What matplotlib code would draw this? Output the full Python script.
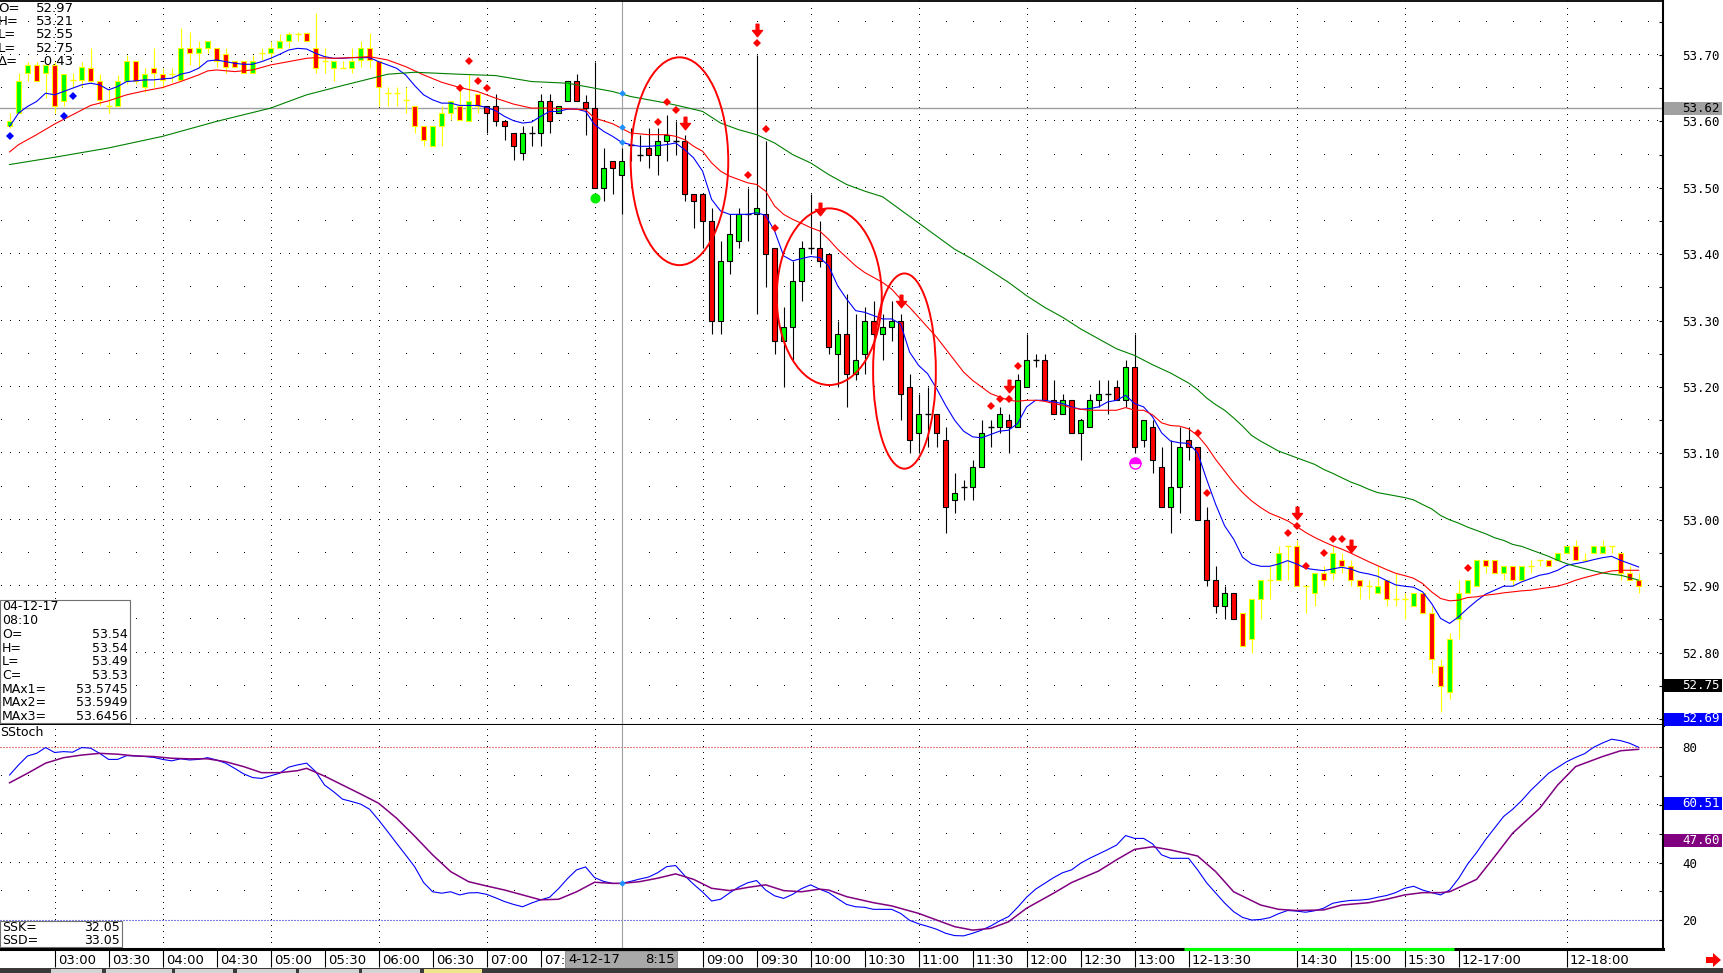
import numpy as np
import matplotlib
matplotlib.use("Agg")
import matplotlib.pyplot as plt
from matplotlib.patches import Rectangle, Ellipse, Polygon
from matplotlib.path import Path
from matplotlib.transforms import blended_transform_factory

plt.rcParams['font.family'] = ['DejaVu Sans']
plt.rcParams['lines.scale_dashes'] = False

# ── Data: 5-minute bars from 02:35, session break after 15:55 ─────────────────
opens = [
    53.5925, 53.6125, 53.6725, 53.685, 53.6725, 53.685, 53.631, 53.6625, 53.6625, 53.68,
    53.661, 53.6225, 53.6225, 53.6615, 53.691, 53.6525, 53.681, 53.671, 53.671, 53.6625,
    53.711, 53.7025, 53.711, 53.711, 53.701, 53.691, 53.691, 53.6725, 53.7025, 53.7025,
    53.711, 53.721, 53.731, 53.7325, 53.711, 53.691, 53.681, 53.681, 53.681, 53.6925,
    53.71, 53.691, 53.6425, 53.6425, 53.6325, 53.6225, 53.5925, 53.5625, 53.5925, 53.6125,
    53.6225, 53.601, 53.641, 53.6225, 53.6225, 53.601, 53.5825, 53.5525, 53.5825, 53.5825,
    53.631, 53.6125, 53.631, 53.661, 53.6285, 53.62, 53.50, 53.54, 53.52, 53.565,
    53.55, 53.56, 53.55, 53.57, 53.57, 53.57, 53.49, 53.49, 53.45, 53.30,
    53.39, 53.42, 53.46, 53.46, 53.46, 53.41, 53.27, 53.29, 53.36, 53.41,
    53.41, 53.40, 53.25, 53.28, 53.22, 53.25, 53.30, 53.28, 53.29, 53.30,
    53.20, 53.13, 53.16, 53.16, 53.12, 53.03, 53.05, 53.05, 53.08, 53.14,
    53.14, 53.15, 53.14, 53.20, 53.24, 53.24, 53.18, 53.16, 53.18, 53.13,
    53.14, 53.18, 53.19, 53.20, 53.18, 53.23, 53.12, 53.14, 53.08, 53.02,
    53.05, 53.12, 53.11, 53.00, 52.91, 52.87, 52.89, 52.86, 52.82, 52.88,
    52.91, 52.91, 52.96, 52.96, 52.90, 52.89, 52.92, 52.92, 52.94, 52.93,
    52.91, 52.90, 52.89, 52.91, 52.88, 52.88, 52.87, 52.89, 52.86, 52.78,
    52.74, 52.85, 52.89, 52.90, 52.94, 52.94, 52.92, 52.93, 52.91, 52.93,
    52.94, 52.94, 52.94, 52.95, 52.96, 52.94, 52.95, 52.95, 52.96, 52.95,
    52.92, 52.91]
highs = [
    53.6125, 53.6725, 53.69, 53.69, 53.685, 53.69, 53.671, 53.6725, 53.69, 53.711,
    53.671, 53.65, 53.67, 53.70, 53.691, 53.68, 53.711, 53.68, 53.68, 53.741,
    53.735, 53.721, 53.721, 53.711, 53.71, 53.691, 53.691, 53.70, 53.71, 53.721,
    53.731, 53.735, 53.735, 53.735, 53.7625, 53.711, 53.691, 53.691, 53.711, 53.721,
    53.7325, 53.691, 53.6525, 53.6525, 53.6525, 53.6225, 53.5925, 53.5925, 53.6225, 53.631,
    53.6525, 53.671, 53.641, 53.6225, 53.641, 53.601, 53.5825, 53.5925, 53.5925, 53.641,
    53.641, 53.6225, 53.661, 53.671, 53.64, 53.69, 53.56, 53.54, 53.56, 53.59,
    53.58, 53.59, 53.59, 53.61, 53.60, 53.58, 53.49, 53.49, 53.47, 53.42,
    53.46, 53.47, 53.50, 53.70, 53.57, 53.41, 53.32, 53.39, 53.42, 53.49,
    53.45, 53.40, 53.30, 53.34, 53.31, 53.32, 53.33, 53.31, 53.33, 53.31,
    53.22, 53.19, 53.20, 53.16, 53.14, 53.07, 53.06, 53.09, 53.15, 53.15,
    53.17, 53.16, 53.22, 53.28, 53.25, 53.25, 53.21, 53.19, 53.18, 53.15,
    53.19, 53.21, 53.21, 53.21, 53.24, 53.28, 53.15, 53.15, 53.11, 53.12,
    53.14, 53.14, 53.11, 53.02, 52.93, 52.90, 52.89, 52.86, 52.88, 52.91,
    52.93, 52.96, 52.96, 52.97, 52.90, 52.92, 52.93, 52.96, 52.95, 52.94,
    52.91, 52.91, 52.93, 52.91, 52.92, 52.89, 52.89, 52.89, 52.87, 52.79,
    52.83, 52.91, 52.91, 52.94, 52.94, 52.94, 52.93, 52.93, 52.93, 52.94,
    52.94, 52.94, 52.95, 52.96, 52.97, 52.95, 52.96, 52.97, 52.96, 52.95,
    52.93, 52.92]
lows = [
    53.59, 53.6125, 53.661, 53.6615, 53.635, 53.6125, 53.6225, 53.6525, 53.6525, 53.66,
    53.625, 53.6125, 53.6225, 53.656, 53.656, 53.645, 53.6525, 53.65, 53.66, 53.6625,
    53.685, 53.68, 53.7025, 53.6825, 53.6725, 53.6825, 53.6725, 53.6725, 53.6925, 53.6925,
    53.711, 53.711, 53.721, 53.721, 53.6725, 53.6725, 53.661, 53.681, 53.6725, 53.6825,
    53.681, 53.6225, 53.6225, 53.6225, 53.6125, 53.5825, 53.5625, 53.5625, 53.5625, 53.6025,
    53.6025, 53.601, 53.6125, 53.5825, 53.5925, 53.5725, 53.5425, 53.5425, 53.5625, 53.5625,
    53.5825, 53.6125, 53.631, 53.631, 53.58, 53.50, 53.48, 53.49, 53.46, 53.54,
    53.54, 53.53, 53.52, 53.54, 53.55, 53.48, 53.44, 53.41, 53.28, 53.28,
    53.37, 53.41, 53.42, 53.31, 53.35, 53.25, 53.20, 53.24, 53.33, 53.40,
    53.38, 53.25, 53.20, 53.17, 53.21, 53.22, 53.26, 53.24, 53.27, 53.15,
    53.10, 53.10, 53.11, 53.11, 52.98, 53.01, 53.03, 53.03, 53.08, 53.11,
    53.13, 53.10, 53.14, 53.20, 53.23, 53.18, 53.16, 53.16, 53.13, 53.09,
    53.14, 53.17, 53.16, 53.18, 53.17, 53.10, 53.11, 53.07, 53.02, 52.98,
    53.01, 53.09, 53.00, 52.90, 52.86, 52.85, 52.85, 52.81, 52.80, 52.85,
    52.88, 52.91, 52.91, 52.90, 52.86, 52.87, 52.90, 52.91, 52.92, 52.90,
    52.88, 52.88, 52.89, 52.87, 52.87, 52.85, 52.87, 52.86, 52.77, 52.71,
    52.73, 52.82, 52.89, 52.90, 52.92, 52.92, 52.91, 52.90, 52.91, 52.92,
    52.93, 52.93, 52.94, 52.95, 52.94, 52.94, 52.95, 52.95, 52.95, 52.91,
    52.91, 52.89]
closes = [
    53.601, 53.6615, 53.685, 53.6615, 53.685, 53.6225, 53.671, 53.6625, 53.6825, 53.6615,
    53.6315, 53.6225, 53.661, 53.691, 53.6615, 53.671, 53.6725, 53.6625, 53.671, 53.711,
    53.7025, 53.711, 53.721, 53.691, 53.6825, 53.6825, 53.6725, 53.691, 53.7025, 53.711,
    53.721, 53.731, 53.731, 53.721, 53.681, 53.691, 53.691, 53.681, 53.691, 53.71,
    53.6925, 53.6525, 53.6425, 53.6425, 53.6325, 53.5925, 53.5725, 53.5925, 53.6125, 53.631,
    53.6025, 53.631, 53.6225, 53.6125, 53.601, 53.5925, 53.5625, 53.5825, 53.5825, 53.631,
    53.601, 53.6225, 53.661, 53.631, 53.62, 53.50, 53.53, 53.53, 53.54, 53.565,
    53.55, 53.55, 53.57, 53.58, 53.57, 53.49, 53.48, 53.45, 53.30, 53.39,
    53.43, 53.46, 53.46, 53.47, 53.40, 53.27, 53.29, 53.36, 53.41, 53.41,
    53.39, 53.26, 53.28, 53.22, 53.24, 53.30, 53.28, 53.29, 53.30, 53.19,
    53.12, 53.16, 53.16, 53.13, 53.02, 53.04, 53.05, 53.08, 53.13, 53.14,
    53.16, 53.14, 53.21, 53.24, 53.24, 53.18, 53.16, 53.18, 53.13, 53.15,
    53.18, 53.19, 53.19, 53.18, 53.23, 53.11, 53.15, 53.09, 53.02, 53.05,
    53.11, 53.11, 53.00, 52.91, 52.87, 52.89, 52.85, 52.81, 52.88, 52.91,
    52.91, 52.95, 52.96, 52.90, 52.90, 52.92, 52.91, 52.95, 52.93, 52.91,
    52.90, 52.90, 52.90, 52.88, 52.88, 52.88, 52.89, 52.86, 52.79, 52.75,
    52.82, 52.89, 52.91, 52.94, 52.93, 52.92, 52.93, 52.91, 52.93, 52.93,
    52.94, 52.93, 52.95, 52.96, 52.94, 52.94, 52.96, 52.96, 52.96, 52.92,
    52.91, 52.90]

day_first_bar, day_last_bar = 53, 136      # black-wick bars (day session)

# moving averages (MAx1 fast / MAx2 / MAx3 slow)
ma_fast = [
    53.5925, 53.6125, 53.6225, 53.63, 53.6425, 53.64, 53.645, 53.65, 53.655, 53.6575,
    53.655, 53.6475, 53.6525, 53.66, 53.661, 53.6625, 53.6625, 53.664, 53.665, 53.671,
    53.674, 53.68, 53.691, 53.6925, 53.69, 53.6875, 53.686, 53.686, 53.69, 53.695,
    53.701, 53.7075, 53.71, 53.709, 53.7025, 53.6975, 53.695, 53.695, 53.696, 53.696,
    53.696, 53.69, 53.685, 53.68, 53.67, 53.654, 53.64, 53.6325, 53.6275, 53.6275,
    53.624, 53.624, 53.624, 53.621, 53.616, 53.6075, 53.601, 53.5975, 53.599, 53.6075,
    53.615, 53.615, 53.6185, 53.6185, 53.615, 53.595, 53.585, 53.5775, 53.5685, 53.565,
    53.5625, 53.5625, 53.5635, 53.565, 53.5675, 53.5575, 53.545, 53.525, 53.4825, 53.465,
    53.46, 53.46, 53.46, 53.4625, 53.4585, 53.435, 53.3975, 53.39, 53.3935, 53.3965,
    53.395, 53.3825, 53.3525, 53.3325, 53.315, 53.3125, 53.3075, 53.3025, 53.3025, 53.295,
    53.2525, 53.2325, 53.22, 53.1975, 53.1725, 53.15, 53.1335, 53.125, 53.1235, 53.1285,
    53.1335, 53.135, 53.145, 53.17, 53.18, 53.18, 53.1775, 53.175, 53.17, 53.1665,
    53.1675, 53.17, 53.1775, 53.18, 53.1875, 53.175, 53.17, 53.155, 53.131, 53.1185,
    53.116, 53.115, 53.101, 53.061, 53.0235, 52.991, 52.971, 52.9435, 52.9335, 52.93,
    52.93, 52.9335, 52.9385, 52.9335, 52.927, 52.925, 52.9235, 52.926, 52.9285, 52.926,
    52.921, 52.9185, 52.915, 52.9085, 52.902, 52.90, 52.8985, 52.8915, 52.874, 52.8515,
    52.844, 52.854, 52.8665, 52.878, 52.888, 52.894, 52.90, 52.90, 52.9065, 52.9115,
    52.9165, 52.919, 52.924, 52.9315, 52.934, 52.9365, 52.94, 52.943, 52.945, 52.939,
    52.934, 52.929]
ma_mid_bars = [0, 1, 3, 5, 7, 9, 11, 13, 15, 17, 19, 21, 22, 23, 25, 27, 29, 31, 33, 34,
               36, 38, 40, 41, 42, 44, 46, 48, 50, 52, 54, 56, 58, 60, 62, 64, 65, 67, 69, 71] \
    + list(range(73, 182))
ma_mid = [
    53.554, 53.565, 53.58, 53.596, 53.61, 53.624, 53.631, 53.64, 53.646, 53.651,
    53.66, 53.67, 53.676, 53.6775, 53.675, 53.6775, 53.685, 53.69, 53.695, 53.696,
    53.695, 53.696, 53.6975, 53.695, 53.6925, 53.6825, 53.67, 53.659, 53.651, 53.645,
    53.635, 53.626, 53.62, 53.62, 53.619, 53.6175, 53.605, 53.5965, 53.5825, 53.58,
    53.58, 53.5775, 53.5725, 53.5625, 53.555, 53.5375, 53.525, 53.5175, 53.5125, 53.5075,
    53.505, 53.495, 53.4725, 53.46, 53.4525, 53.4465, 53.44, 53.435, 53.4225, 53.4075,
    53.395, 53.3825, 53.3725, 53.365,
    53.3575, 53.3475, 53.3325, 53.32, 53.305, 53.29, 53.275, 53.2575, 53.24, 53.2225,
    53.21, 53.20, 53.19, 53.185, 53.18, 53.1785, 53.18, 53.18, 53.1785, 53.175,
    53.1725, 53.1685, 53.1665, 53.165, 53.165, 53.165, 53.165, 53.169, 53.165, 53.165,
    53.158,
    53.146, 53.142, 53.141, 53.137, 53.127, 53.111, 53.091, 53.0735, 53.056, 53.041,
    53.0285, 53.0185, 53.01, 53.0045, 52.9985, 52.99, 52.981, 52.9735, 52.967, 52.961,
    52.956, 52.95, 52.9435, 52.937, 52.931, 52.925, 52.9195, 52.916, 52.912,
    52.904, 52.8915, 52.8815, 52.878, 52.879, 52.883, 52.884, 52.8865, 52.888, 52.89,
    52.8915, 52.893, 52.894, 52.896, 52.898, 52.90, 52.904, 52.909, 52.913, 52.9165,
    52.92, 52.923, 52.924, 52.924, 52.924]
ma_slow_bars = [0, 5, 11, 17, 23, 29, 33, 37, 41, 42, 45, 50, 54, 58, 62, 65, 67, 69, 71, 73,
                75, 77, 79, 81, 83, 85, 87, 89, 91, 93, 95, 97, 105, 107, 109, 111, 113, 115,
                117, 119, 121, 123, 125, 127, 129, 131] + list(range(132, 182))
ma_slow = [
    53.535, 53.546, 53.56, 53.5775, 53.60, 53.62, 53.64, 53.654, 53.6675, 53.671,
    53.674, 53.671, 53.669, 53.66, 53.6575, 53.65, 53.645, 53.6375, 53.6325, 53.6275,
    53.6215, 53.615, 53.5975, 53.5875, 53.58, 53.5675, 53.55, 53.5375, 53.52, 53.505,
    53.495, 53.4865, 53.4075, 53.3925, 53.375, 53.3575, 53.3375, 53.32, 53.305, 53.2875,
    53.2725, 53.2575, 53.2475, 53.2335, 53.221, 53.206,
    53.196, 53.1835, 53.1735, 53.165, 53.1535, 53.141, 53.127, 53.1185, 53.111, 53.1035,
    53.0985, 53.0935, 53.0885, 53.0835, 53.076, 53.07, 53.0635, 53.057, 53.052, 53.046,
    53.041, 53.0385, 53.036, 53.0335, 53.03, 53.023, 53.0165, 53.0065, 53.00, 52.995,
    52.989, 52.984, 52.979, 52.973, 52.969, 52.963, 52.96, 52.955, 52.95, 52.945,
    52.939, 52.934, 52.93, 52.9265, 52.923, 52.92, 52.918, 52.9165, 52.913, 52.909]

# slow stochastic
ssk = [
    70.4, 73.9, 77.0, 77.9, 79.9, 78.2, 78.5, 78.3, 79.9, 79.7,
    77.9, 75.8, 75.8, 77.1, 77.0, 76.8, 76.5, 75.8, 75.3, 76.0,
    75.6, 75.8, 76.4, 75.6, 74.5, 72.7, 70.8, 69.5, 69.2, 70.1,
    71.0, 73.1, 73.9, 74.5, 71.6, 66.9, 64.6, 62.0, 61.2, 60.3,
    58.5, 54.8, 50.8, 46.7, 42.7, 38.6, 33.1, 29.9, 29.4, 29.9,
    28.8, 29.5, 29.6, 29.0, 27.8, 26.5, 25.5, 24.7, 26.0, 27.1,
    28.0, 31.0, 34.5, 37.5, 38.5, 34.8, 33.5, 32.8, 32.8, 33.5,
    34.3, 35.0, 36.5, 38.6, 39.0, 35.5, 32.5, 29.8, 26.7, 27.3,
    29.5, 31.5, 33.0, 33.8, 30.5, 28.5, 27.6, 29.0, 31.0, 32.3,
    30.8, 29.6, 27.5, 25.5, 24.7, 24.5, 23.8, 23.8, 23.8, 22.4,
    20.0, 18.8, 17.9, 16.9, 15.5, 14.7, 14.6, 15.5, 16.6, 18.0,
    19.8, 21.3, 24.5, 28.0, 30.8, 32.8, 34.8, 36.5, 37.5, 39.8,
    41.5, 43.0, 44.5, 46.1, 49.4, 48.4, 48.4, 46.5, 42.7, 41.5,
    41.5, 41.5, 37.5, 33.0, 29.5, 26.0, 23.0, 21.0, 20.1, 20.3,
    20.9, 22.3, 23.4, 23.2, 22.8, 23.3, 24.2, 25.9, 26.5, 26.9,
    27.0, 27.3, 28.0, 28.6, 29.6, 31.1, 31.8, 30.5, 29.6, 28.8,
    30.5, 34.5, 39.5, 43.5, 48.0, 52.0, 56.0, 58.5, 61.5, 65.0,
    68.0, 71.0, 73.0, 75.0, 76.5, 77.8, 80.0, 81.5, 82.8, 82.3,
    81.4, 80.0]
ssd_bars = [0, 2, 4, 6, 8, 10, 12, 14, 16, 18, 20, 22, 24, 26, 28, 30, 32, 33, 35, 37,
            39, 41, 43, 45, 47, 49, 51, 53, 55, 57, 59, 61, 63, 65, 67, 68, 70, 72, 74, 76,
            78, 80, 82, 84, 86, 88, 90, 91, 93, 96, 98, 101, 103, 105, 107, 109, 111, 113, 116, 118,
            121, 123, 125, 127, 129, 132, 134, 136, 139, 141, 143, 146, 148, 151, 153, 155, 157, 159, 160, 163,
            165, 167, 170, 172, 174, 177, 179, 181]
ssd = [67.7, 71.0, 74.5, 76.4, 77.3, 77.9, 77.6, 77.0, 76.8, 76.2,
       76.0, 76.0, 75.0, 73.3, 71.2, 71.2, 71.9, 72.7, 70.0, 66.9,
       63.8, 60.6, 55.4, 49.2, 42.7, 36.9, 33.4, 31.9, 30.5, 28.8,
       27.1, 27.3, 29.9, 33.2, 32.8, 32.8, 33.4, 34.6, 36.1, 34.2,
       31.1, 30.3, 31.4, 32.3, 30.3, 29.9, 30.8, 30.5, 28.2, 26.1,
       25.0, 22.4, 20.1, 17.8, 16.6, 17.2, 19.5, 24.2, 29.4, 33.1,
       37.1, 41.0, 44.6, 45.5, 44.4, 42.3, 36.9, 29.9, 25.3, 23.8,
       23.4, 23.6, 25.3, 26.1, 27.3, 28.8, 29.6, 29.6, 29.9, 34.2,
       42.1, 50.2, 58.8, 66.9, 73.3, 76.8, 78.8, 79.3]

# signal markers
arrow_bars = [75, 83, 90, 99, 111, 143, 149]
arrow_prices = [53.5975, 53.7375, 53.4685, 53.33, 53.2015, 53.01, 52.961]
red_dot_bars = [50, 51, 52, 53, 72, 73, 74, 82, 83, 84, 85, 109, 110, 111, 112,
                132, 133, 142, 143, 144, 146, 147, 148, 162]
red_dot_prices = [53.651, 53.691, 53.661, 53.651, 53.5985, 53.6285, 53.6175, 53.519,
                  53.7185, 53.589, 53.439, 53.1715, 53.1815, 53.1815, 53.231,
                  53.13, 53.041, 52.98, 52.991, 52.931, 52.95, 52.971, 52.971, 52.928]
blue_dot_bars = [0, 6, 7]
blue_dot_prices = [53.5775, 53.6075, 53.6375]
buy_dot_bar, buy_dot_price = 65, 53.484
half_dot_bar, half_dot_price = 125, 53.085

cursor_bar = 68
cursor_ma_values = [53.5685, 53.591, 53.6435]
last_price = 53.62

# hand-drawn ellipses: (bar, price, width in bars, height in price)
highlight_ellipses = [(74.43, 53.540, 10.84, 0.313),
                      (91.07, 53.336, 11.67, 0.266),
                      (99.43, 53.224, 6.97, 0.294)]

# time labels as visible on the chart (07:30 is cut by the cursor date box,
# 08:00 and 08:30 sit under it)
time_label_bars = [5, 11, 17, 23, 29, 35, 41, 47, 53, 59, 65, 71, 77, 83, 89, 95, 101,
                   107, 113, 119, 125, 131, 143, 149, 155, 161, 173]
time_labels = ['03:00', '03:30', '04:00', '04:30', '05:00', '05:30', '06:00', '06:30',
               '07:00', '07:', '', '', '09:00', '09:30', '10:00', '10:30',
               '11:00', '11:30', '12:00', '12:30', '13:00', '12-13:30', '14:30',
               '15:00', '15:30', '12-17:00', '12-18:00']
session_mark = (131, 160)

price_ticks = [52.70, 52.80, 52.90, 53.00, 53.10, 53.20, 53.30, 53.40, 53.50, 53.60, 53.70]
price_boxes = [(53.62, '#a0a0a0', 'black'), (52.75, 'black', 'white'), (52.69, '#0000ff', 'white')]
stoch_ticks = [20, 40, 80]
stoch_boxes = [(60.51, '#0000ff', 'white'), (47.60, '#800080', 'white')]

header_labels = ['O=', 'H=', 'L=', 'L=', 'Δ=']
header_values = ['52.97', '53.21', '52.55', '52.75', '-0.43']
info_labels = ['04-12-17', '08:10', 'O=', 'H=', 'L=', 'C=', 'MAx1=', 'MAx2=', 'MAx3=']
info_values = ['', '', '53.54', '53.54', '53.49', '53.53', '53.5745', '53.5949', '53.6456']
stoch_info_labels = ['SSK=', 'SSD=']
stoch_info_values = ['32.05', '33.05']

# ── Figure layout (pixel based) ──────────────────────────────────────────────
W_PX, H_PX = 1724, 973
PLOT_R, PRICE_TOP, SPLIT, BOTTOM = 1663, 1, 725, 949

fig = plt.figure(figsize=(W_PX / 100, H_PX / 100), dpi=100)
fig.patch.set_facecolor('white')
ax = fig.add_axes([0, 1 - SPLIT / H_PX, PLOT_R / W_PX, (SPLIT - PRICE_TOP) / H_PX])
ax2 = fig.add_axes([0, 1 - BOTTOM / H_PX, PLOT_R / W_PX, (BOTTOM - SPLIT) / H_PX])


def px_rect(x0, y0, x1, y1, **kw):
    r = Rectangle((x0 / W_PX, 1 - y1 / H_PX), (x1 - x0) / W_PX, (y1 - y0) / H_PX,
                  transform=fig.transFigure, **kw)
    fig.add_artist(r)


def px_text(x, y, s, **kw):
    fig.text(x / W_PX, 1 - y / H_PX, s, **kw)


n = len(closes)
bars = np.arange(n)
for a in (ax, ax2):
    a.set_xlim(-1.067, 183.71)
    a.set_facecolor('white')
ax.set_ylim(52.691, 53.7813)
ax2.set_ylim(10.05, 87.73)

# ── Dotted grid ──────────────────────────────────────────────────────────────
grid_cols = time_label_bars[::2]


def dot_row(a, y, step):
    xs = np.arange(-1, 185)
    xs = xs[(xs - 5) % step == 0]
    a.plot(xs, np.full(len(xs), y), ',', color='black', zorder=0.5)


for p in price_ticks:
    dot_row(ax, p, 1)
    dot_row(ax, p + 0.05, 3)
for b in grid_cols:
    ys = np.arange(52.69, 53.78, 0.01)
    ax.plot(np.full(len(ys), b), ys, ',', color='black', zorder=0.5)
    ys2 = np.arange(10, 88, 2)
    ax2.plot(np.full(len(ys2), b), ys2, ',', color='black', zorder=0.5)
for v in (40, 60):
    dot_row(ax2, v, 1)
for v in (30, 50, 70):
    dot_row(ax2, v, 3)
ax2.axhline(80, color='#cc0000', lw=0.8, ls=(0, (0.72, 1.44)), zorder=0.6)
ax2.axhline(20, color='#0000cc', lw=0.8, ls=(0, (0.72, 1.44)), zorder=0.6)

# cursor + last price line
ax.axhline(last_price, color='#a0a0a0', lw=1.0, zorder=1)
ax.axvline(cursor_bar, color='#a0a0a0', lw=0.8, zorder=1)
ax2.axvline(cursor_bar, color='#a0a0a0', lw=0.8, zorder=1)

# ── Candles ──────────────────────────────────────────────────────────────────
edge_cols = ['black' if day_first_bar <= i <= day_last_bar else '#ffff00' for i in bars]
ax.vlines(bars, lows, highs, colors=edge_cols, lw=0.8, zorder=3)
for i in bars:
    o, c = opens[i], closes[i]
    if abs(c - o) < 1e-4:
        ax.hlines(o, i - 0.33, i + 0.33, colors=edge_cols[i], lw=1.0, zorder=4)
    else:
        face = '#00ff00' if c > o else '#ff0000'
        ax.add_patch(Rectangle((i - 0.27, min(o, c)), 0.54, abs(c - o), facecolor=face,
                               edgecolor=edge_cols[i], lw=0.8, zorder=4))

# ── Moving averages ──────────────────────────────────────────────────────────
ax.plot(bars, ma_fast, color='#0000ff', lw=0.8, zorder=5)
ax.plot(ma_mid_bars, ma_mid, color='#ff0000', lw=0.8, zorder=5)
ax.plot(ma_slow_bars, ma_slow, color='#008000', lw=0.8, zorder=5)

# ── Signals / annotations ────────────────────────────────────────────────────
arrow_marker = Path([(-0.22, 1.0), (0.22, 1.0), (0.22, 0.0), (0.8, 0.0), (0.0, -1.0),
                     (-0.8, 0.0), (-0.22, 0.0), (-0.22, 1.0)],
                    [Path.MOVETO] + [Path.LINETO] * 6 + [Path.CLOSEPOLY])
ax.plot(arrow_bars, arrow_prices, ls='none', marker=arrow_marker, ms=9,
        color='#ff0000', mec='#ff0000', zorder=7)
ax.plot(red_dot_bars, red_dot_prices, ls='none', marker='D', ms=3.6,
        color='#ff0000', mew=0, zorder=7)
ax.plot(blue_dot_bars, blue_dot_prices, ls='none', marker='D', ms=3.6,
        color='#0000ff', mew=0, zorder=7)
ax.plot([buy_dot_bar], [buy_dot_price], ls='none', marker='o', ms=7.2,
        color='#00ee00', mew=0, zorder=7)
ax.plot([half_dot_bar], [half_dot_price], ls='none', marker='o', ms=8, fillstyle='top',
        mfc='#ff00ff', mfcalt='white', mec='#ff00ff', mew=1, zorder=7)
ax.plot([cursor_bar] * 3, cursor_ma_values, ls='none', marker='D', ms=3.4,
        color='#1e90ff', mew=0, zorder=7)
for ex, ey, ew, eh in highlight_ellipses:
    ax.add_patch(Ellipse((ex, ey), ew, eh, fill=False, edgecolor='#ff0000', lw=1.4, zorder=6))

# ── Stochastic ───────────────────────────────────────────────────────────────
ax2.plot(bars, ssk, color='#0000ff', lw=0.8, zorder=3)
ax2.plot(ssd_bars, ssd, color='#800080', lw=1.1, zorder=3)
ax2.plot([cursor_bar], [ssk[cursor_bar]], ls='none', marker='D', ms=3.4,
         color='#1e90ff', mew=0, zorder=6)

# ── Axes decoration ──────────────────────────────────────────────────────────
mono = 'DejaVu Sans Mono'
ax.yaxis.tick_right()
ax.set_yticks(price_ticks)
ax.set_yticklabels([f'{p:.2f}' for p in price_ticks], fontfamily=mono, fontsize=9)
ax.set_yticks([p + 0.05 for p in price_ticks], minor=True)
ax.tick_params(axis='y', which='both', direction='in', length=3, width=0.8, pad=14)
ax.set_xticks([])

ax2.yaxis.tick_right()
ax2.set_yticks(stoch_ticks)
ax2.set_yticklabels([str(v) for v in stoch_ticks], fontfamily=mono, fontsize=9)
ax2.set_yticks([30, 50, 60, 70], minor=True)
ax2.tick_params(axis='y', which='both', direction='in', length=3, width=0.8, pad=14)
ax2.set_xticks(time_label_bars)
ax2.tick_params(axis='x', direction='out', length=13, width=0.8, labelbottom=False)

for a in (ax, ax2):
    a.spines['left'].set_visible(False)
    a.spines['right'].set_linewidth(1.5)
    a.spines['bottom'].set_linewidth(2.2)
ax.spines['top'].set_linewidth(1.3)
ax2.spines['top'].set_visible(False)

trans = blended_transform_factory(ax2.transData, ax2.transAxes)
box_left, box_right = cursor_bar - 6.25, cursor_bar + 6.2
for b, s in zip(time_label_bars, time_labels):
    if s:
        ax2.text(b + 0.35, -0.05, s, transform=trans, ha='left', va='center',
                 fontsize=9.5, clip_on=False)
ax2.plot([session_mark[0] - 0.5, session_mark[1] + 0.5], [0, 0], transform=trans,
         color='#00ff00', lw=2.2, solid_capstyle='butt', clip_on=False, zorder=10)
ax2.add_patch(Rectangle((box_left, -0.085), box_right - box_left, 0.077, transform=trans,
                        facecolor='#a8a8a8', edgecolor='#888888', lw=0.6,
                        clip_on=False, zorder=10))
ax2.text(box_left + 0.3, -0.047, '4-12-17', transform=trans, ha='left', va='center',
         fontsize=9.5, clip_on=False, zorder=11)
ax2.text(box_right - 0.3, -0.047, '8:15', transform=trans, ha='right', va='center',
         fontsize=9.5, clip_on=False, zorder=11)

# value boxes on the right scale
for a, boxes in ((ax, price_boxes), (ax2, stoch_boxes)):
    for val, face, tcol in boxes:
        y_disp = a.transData.transform((0, val))[1]
        y_px = min(H_PX - y_disp, SPLIT - 6) if a is ax else H_PX - y_disp
        px_rect(PLOT_R + 1, y_px - 6.5, 1722, y_px + 6.5, facecolor=face, lw=0, zorder=10)
        px_text(1682, y_px, f'{val:.2f}', color=tcol, fontfamily=mono, fontsize=9,
                va='center', ha='left', zorder=11)

# ── Text panels ──────────────────────────────────────────────────────────────
for k, (lab, val) in enumerate(zip(header_labels, header_values)):
    y = 8.5 + 13.2 * k
    px_text(-2, y, lab, fontsize=9.5, va='center', ha='left', zorder=11)
    px_text(74, y, val, fontsize=9.5, va='center', ha='right', zorder=11)

px_rect(0, 600, 130, 723, facecolor='white', edgecolor='#707070', lw=0.8, zorder=10)
for k, (lab, val) in enumerate(zip(info_labels, info_values)):
    y = 607 + 13.7 * k
    px_text(2, y, lab, fontsize=9, va='center', ha='left', zorder=11)
    if val:
        px_text(128, y, val, fontsize=9, va='center', ha='right', zorder=11)

px_text(0, 733, 'SStoch', fontsize=9, va='center', ha='left', zorder=11)
px_rect(0, 921, 122, 947, facecolor='white', edgecolor='#707070', lw=0.8, zorder=10)
for k, (lab, val) in enumerate(zip(stoch_info_labels, stoch_info_values)):
    y = 927.5 + 13.5 * k
    px_text(2, y, lab, fontsize=9, va='center', ha='left', zorder=11)
    px_text(120, y, val, fontsize=9, va='center', ha='right', zorder=11)

# bottom tab strip and scroll arrow
px_rect(0, 968, W_PX, 973, facecolor='#3a3a3a', lw=0, zorder=9)
for x0, x1 in [(51, 102), (106, 172), (175, 233), (237, 296), (299, 359), (362, 420)]:
    px_rect(x0, 969, x1, 973, facecolor='#d4d4d4', lw=0, zorder=10)
px_rect(424, 969, 482, 973, facecolor='#f0e68c', lw=0, zorder=10)
arrow_px = [(1706, 957), (1713, 957), (1713, 953), (1721, 960), (1713, 967), (1713, 963), (1706, 963)]
fig.add_artist(Polygon([(x / W_PX, 1 - y / H_PX) for x, y in arrow_px], closed=True,
                       transform=fig.transFigure, facecolor='#ff0000', edgecolor='none', zorder=10))

fig.savefig('out.png', dpi=100, facecolor='white')
